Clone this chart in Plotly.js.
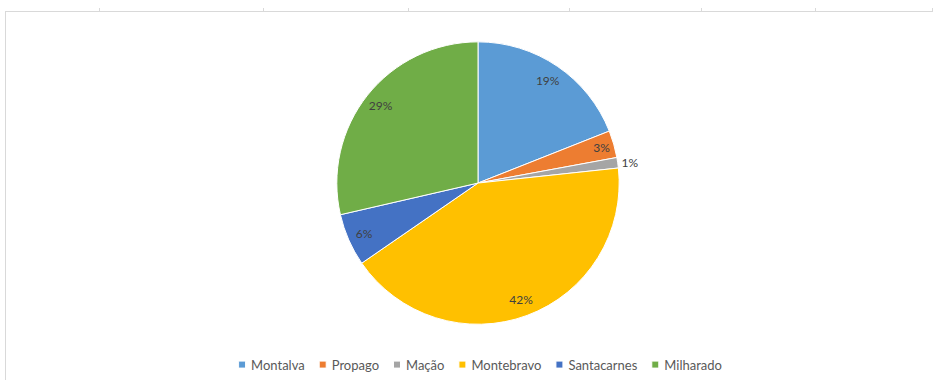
<!DOCTYPE html>
<html>
<head>
<meta charset="utf-8">
<script src="https://cdn.plot.ly/plotly-3.0.1.min.js"></script>
<style>
  html, body { margin: 0; padding: 0; background: #ffffff; }
  #wrap { position: relative; width: 933px; height: 380px; overflow: hidden; }
  #chart { position: absolute; left: 0; top: 0; width: 933px; height: 380px; }
  #frame { position: absolute; left: 5px; top: 11px; width: 940px; height: 380px;
           border-top: 1px solid #d9d9d9; border-left: 1px solid #d9d9d9; pointer-events: none; }
  .tick { position: absolute; top: 8px; width: 1px; height: 3px; background: #d9d9d9; }
</style>
</head>
<body>
<div id="wrap">
  <div id="chart"></div>
  <div id="frame"></div>
  <div class="tick" style="left:99px"></div>
  <div class="tick" style="left:263px"></div>
  <div class="tick" style="left:408px"></div>
  <div class="tick" style="left:569px"></div>
  <div class="tick" style="left:701px"></div>
  <div class="tick" style="left:815px"></div>
  <div class="tick" style="left:932px"></div>
</div>
<script>
const categories = ["Montalva", "Propago", "Mação", "Montebravo", "Santacarnes", "Milharado"];
const values = [19.0, 3.1, 1.2, 42.1, 6.0, 28.6];
const colors = ["#5B9BD5", "#ED7D31", "#A5A5A5", "#FFC000", "#4472C4", "#70AD47"];
const labelPositions = ["inside", "inside", "outside", "inside", "inside", "inside"];

const FONT = "Lato, 'Open Sans', sans-serif";
// domain in pixels (x 333..623, y 43..333) converted to paper fractions
const domain = { x: [333 / 933, 623 / 933], y: [1 - 333 / 380, 1 - 43 / 380] };

// visible pie (slices + legend)
const pieTrace = {
  type: "pie",
  labels: categories,
  values: values,
  sort: false,
  direction: "clockwise",
  rotation: 0,
  marker: { colors: colors, line: { color: "#ffffff", width: 1 } },
  textinfo: "none",
  hoverinfo: "label+percent",
  domain: domain,
  automargin: false
};

// transparent ring carrying the percentage labels near the rim
const labelRing = {
  type: "pie",
  labels: categories,
  values: values,
  sort: false,
  direction: "clockwise",
  rotation: 0,
  hole: 0.76,
  showlegend: false,
  marker: { colors: categories.map(() => "rgba(0,0,0,0)"), line: { width: 0 } },
  texttemplate: "%{percent:.0%}",
  textposition: labelPositions,
  insidetextorientation: "horizontal",
  textfont: { family: FONT, size: 12, color: "#404040" },
  outsidetextfont: { family: FONT, size: 12, color: "#404040" },
  hoverinfo: "skip",
  domain: domain,
  automargin: false
};

const layout = {
  width: 933,
  height: 380,
  margin: { l: 0, r: 0, t: 0, b: 0 },
  paper_bgcolor: "rgba(0,0,0,0)",
  plot_bgcolor: "rgba(0,0,0,0)",
  showlegend: true,
  legend: {
    orientation: "h",
    x: 0.5, xanchor: "center",
    y: 0.055, yanchor: "top",
    font: { family: FONT, size: 13, color: "#595959" },
    itemwidth: 30,
    traceorder: "normal"
  }
};

Plotly.newPlot("chart", [pieTrace, labelRing], layout, { displayModeBar: false, staticPlot: true }).then(compactLegend);

// Excel-style compact legend: small square keys, tight spacing, centred
function compactLegend() {
  try {
    const gd = document.getElementById("chart");
    const leg = gd.querySelector("g.legend");
    const items = gd.querySelectorAll("g.legend g.traces");
    if (!leg || !items.length) return;
    let cursor = 0;
    const gapAfter = 14, keyToText = 9;
    items.forEach(item => {
      const path = item.querySelector("path.legendpie");
      const text = item.querySelector("text.legendtext");
      if (!path || !text) return;
      path.setAttribute("d", "M3.5,3.5H-3.5V-3.5H3.5Z");
      path.setAttribute("transform", "translate(0,0)");
      const lp = item.querySelector("g.legendpoints");
      if (lp) lp.setAttribute("transform", "translate(4,0)");
      text.setAttribute("x", 4 + keyToText);
      const w = text.getComputedTextLength();
      const m = /translate\(([-\d.]+)[ ,]+([-\d.]+)\)/.exec(item.getAttribute("transform") || "");
      const ty = m ? parseFloat(m[2]) : 0;
      item.setAttribute("transform", "translate(" + cursor + "," + ty + ")");
      cursor += 4 + keyToText + w + gapAfter;
    });
    const total = cursor - gapAfter;
    const bg = leg.querySelector("rect.bg");
    if (bg) bg.setAttribute("width", total + 10);
    const lm = /translate\(([-\d.]+)[ ,]+([-\d.]+)\)/.exec(leg.getAttribute("transform") || "");
    const ly = lm ? parseFloat(lm[2]) : 330;
    leg.setAttribute("transform", "translate(" + (484 - total / 2 - 4) + "," + ly + ")");
  } catch (e) { console.error(e); }
}
</script>
</body>
</html>
